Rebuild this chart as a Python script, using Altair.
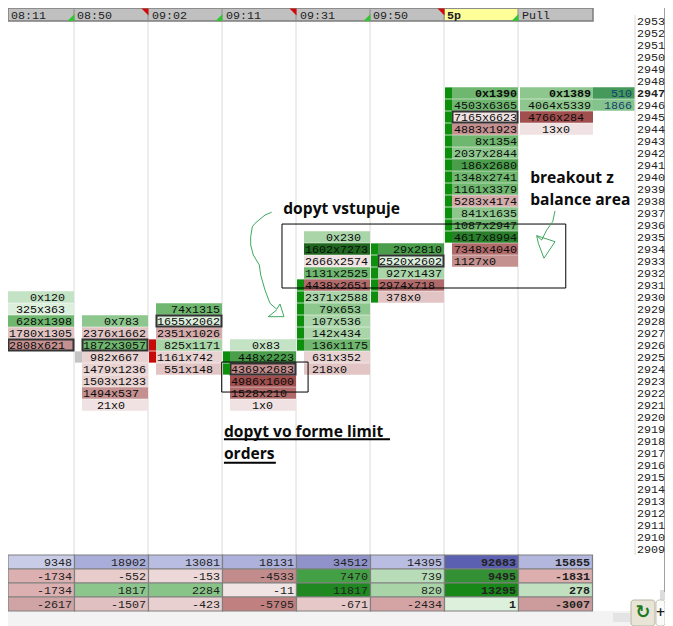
import altair as alt
import pandas as pd

# ---- chart values ---------------------------------------------------------
headers = ["08:11", "08:50", "09:02", "09:11", "09:31", "09:50", "5p", "Pull"]
header_flags = ["up", "down", "up", "down", "up", "down", "up"]
prices = list(range(2953, 2908, -1))
current_price = 2947

col0_top, col0_labels = 2930, ["0x120", "325x363", "628x1398", "1780x1305", "2808x621"]
col0_shades = ["g2", "g1", "g5", "r3", "r5"]
col1_top, col1_labels = 2928, ["0x783", "2376x1662", "1872x3057", "982x667", "1479x1236", "1503x1233", "1494x537", "21x0"]
col1_shades = ["g4", "r3", "g5", "r2", "r2", "r2", "r5", "r1"]
col2_top, col2_labels = 2929, ["74x1315", "1655x2062", "2351x1026", "825x1171", "1161x742", "551x148"]
col2_shades = ["g5", "g1", "r4", "g3", "r2", "r3"]
col3_top, col3_labels = 2926, ["0x83", "448x2223", "4369x2683", "4986x1600", "1528x210", "1x0"]
col3_shades = ["g2", "g6", "r5", "r7", "r6", "r1"]
col4_top, col4_labels = 2935, ["0x230", "1602x7273", "2666x2574", "1131x2525", "4438x2651", "2371x2588", "79x653", "107x536", "142x434", "136x1175", "631x352", "218x0"]
col4_shades = ["g3", "g8", "r1", "g5", "r6", "g3", "g4", "g3", "g3", "g5", "r2", "r3"]
col5_top, col5_labels = 2934, ["29x2810", "2520x2602", "927x1437", "2974x718", "378x0"]
col5_shades = ["g6", "g1", "g3", "r6", "r3"]
col6_top, col6_labels = 2947, ["0x1390", "4503x6365", "7165x6623", "4883x1923", "8x1354", "2037x2844", "186x2680", "1348x2741", "1161x3379", "5283x4174", "841x1635", "1087x2947", "4617x8994", "7348x4040", "1127x0"]
col6_shades = ["g5", "g5", "r1", "r5", "g5", "g4", "g6", "g5", "g5", "r4", "g4", "g5", "g7", "r6", "r5"]
col7_top, col7_labels = 2947, ["0x1389", "4064x5339", "4766x284", "13x0"]
col7_shades = ["g4", "g4", "r7", "r1"]

poc_cells = [(0, 2926), (1, 2926), (2, 2928), (3, 2924), (5, 2933), (6, 2945)]
marker_rows = {
    0: ([2926], "#c4c4c4"), 1: ([2925], "#c4c4c4"), 2: ([2926, 2925], "#c80a0a"),
    3: ([2925, 2924], "#0d8f0d"), 4: ([2931, 2930, 2929, 2928, 2927, 2926], "#0d8f0d"),
    5: ([2934, 2933, 2932, 2931, 2930], "#0d8f0d"),
    6: (list(range(2947, 2934, -1)), "#0d8f0d"),
}

side_labels = ["510", "1866"]
side_prices = [2947, 2946]
side_fills = ["#45995a", "#84c48c"]

table_rows = [
    [9348, 18902, 13081, 18131, 34512, 14395, 92683, 15855],
    [-1734, -552, -153, -4533, 7470, 739, 9495, -1831],
    [-1734, 1817, 2284, -11, 11817, 820, 13295, 278],
    [-2617, -1507, -423, -5795, -671, -2434, 1, -3007],
]
table_fills = [
    ["#c9cce6", "#a9add9", "#b9bde1", "#adb1db", "#8f93c9", "#b9bde1", "#5c60b0", "#b3b7de"],
    ["#dcb0b0", "#e8cccc", "#ecd8d8", "#c28c8c", "#44a044", "#b8dcb8", "#349034", "#dcaeae"],
    ["#dcb0b0", "#8cc68c", "#88c488", "#f0e4e4", "#208820", "#a8d4a8", "#188818", "#c0e0c0"],
    ["#d0a4a4", "#e0c0c0", "#e8d0d0", "#c08080", "#e6c8c8", "#d4a4a4", "#dcf0dc", "#cc9c9c"],
]

shade_names = ["g1", "g2", "g3", "g4", "g5", "g6", "g7", "g8", "r1", "r2", "r3", "r4", "r5", "r6", "r7"]
shade_colors = ["#dceedc", "#c4e2c4", "#a9d5a9", "#8dc78d", "#6fb66f", "#4a9d4a", "#2a802a", "#1f661f",
                "#f0e2e2", "#e8d2d2", "#e2c4c4", "#d4aaaa", "#c49090", "#b06a6a", "#a04e4e"]

# hand-drawn annotations, in column / price units
arrow1_col = [3.664, 3.574, 3.439, 3.403, 3.381, 3.381, 3.416, 3.497, 3.516, 3.574, 3.641, 3.732, 3.776, 3.830, 3.618, 3.732]
arrow1_price = [2937.06, 2936.83, 2936.14, 2935.86, 2935.03, 2934.33, 2933.5, 2932.67, 2931.83, 2930.58, 2929.48, 2928.98, 2929.42, 2928.36, 2928.36, 2928.92]
arrow2_col = [7.485, 7.454, 7.373, 7.305, 7.238, 7.485, 7.336, 7.260, 7.238]
arrow2_price = [2937.17, 2936.28, 2935.58, 2934.75, 2935.11, 2934.61, 2933.23, 2934.48, 2935.11]
box_cols = [(3.803, 7.63), (2.99, 4.155)]
box_prices = [(2936.08, 2930.75), (2924.58, 2922.08)]
notes = ["dopyt vstupuje", "breakout z", "balance area", "dopyt vo forme limit", "orders"]
note_cols = [3.82, 7.15, 7.15, 3.02, 3.02]
note_prices = [2937.3, 2939.92, 2938.05, 2918.78, 2916.92]
underline_cols = [(3.02, 5.26), (3.02, 3.72)]
underline_prices = [2918.14, 2916.19]

# ---- scales ---------------------------------------------------------------
COL_PX = 74.15
ROW_PX = 12.0
W, H = 657, 618
RIGHT = 8 + W
BOTTOM = 8 + H
X_SCALE = alt.Scale(domain=[8 / COL_PX, RIGHT / COL_PX], range=[0, W], nice=False, zero=False)
Y_SCALE = alt.Scale(domain=[2947 - (BOTTOM - 93) / ROW_PX, 2947 + 85 / ROW_PX], range=[H, 0], nice=False, zero=False)


def xy(x="x", y="y", **kw):
    enc = dict(
        x=alt.X(x, type="quantitative", scale=X_SCALE, axis=None),
        y=alt.Y(y, type="quantitative", scale=Y_SCALE, axis=None),
    )
    enc.update(kw)
    return enc


def rects(rows, **mark):
    return alt.Chart(pd.DataFrame(rows)).mark_rect(**mark).encode(
        **xy(x2=alt.X2("x2"), y2=alt.Y2("y2"), fill=alt.Fill("fill:N", scale=None))
    )


def px_col(p):
    return p / COL_PX


def px_price(p):
    return 2947 - (p - 93) / ROW_PX


MONO = "Liberation Mono"
MONO_SIZE = 11.7


def mono_text(rows, align="left", color="#0c0c0c"):
    """Text layer(s): one for the normal rows, one for the bold rows."""
    layers = []
    for weight in ["normal", "bold"]:
        part = [r for r in rows if r["w"] == weight]
        if part:
            layers.append(alt.Chart(pd.DataFrame(part)).mark_text(
                font=MONO, fontSize=MONO_SIZE, fontWeight=weight, align=align, baseline="middle", color=color
            ).encode(**xy(text="t:N")))
    return layers


CELL_LEFT = [8, 82, 156, 230, 304, 378, 452, 520]
CELL_RIGHT = [74, 148, 222, 296, 370, 444, 518, 593]
TEXT_LEFT = [9, 83, 157, 231, 305, 379, 454, 528]
CHAR = 7.0

columns = [
    (col0_top, col0_labels, col0_shades), (col1_top, col1_labels, col1_shades),
    (col2_top, col2_labels, col2_shades), (col3_top, col3_labels, col3_shades),
    (col4_top, col4_labels, col4_shades), (col5_top, col5_labels, col5_shades),
    (col6_top, col6_labels, col6_shades), (col7_top, col7_labels, col7_shades),
]

cells, cell_text = [], []
for c, (top, labels, shades) in enumerate(columns):
    for i, (label, shade) in enumerate(zip(labels, shades)):
        price = top - i
        cells.append(dict(x=px_col(CELL_LEFT[c]), x2=px_col(CELL_RIGHT[c]), y=price + 0.47, y2=price - 0.47, shade=shade))
        bid = len(label.split("x")[0])
        cell_text.append(dict(x=px_col(TEXT_LEFT[c] + (4 - bid) * CHAR), y=price - 0.02, t=label,
                              w="bold" if price == current_price else "normal"))

bg = [
    dict(x=px_col(8), x2=px_col(631), y=px_price(611), y2=px_price(BOTTOM), fill="#f3f3f3"),
    dict(x=px_col(613), x2=px_col(630), y=px_price(613), y2=px_price(622), fill="#e4e4e4"),
    dict(x=px_col(660), x2=px_col(RIGHT), y=px_price(590), y2=px_price(600), fill="#dcdcdc"),
]
background = rects(bg)

grid_rows = [dict(x=px_col(p)) for p in [74, 148, 222, 296, 370, 444, 518]]
grid = alt.Chart(pd.DataFrame(grid_rows)).mark_rule(color="#dadada", strokeWidth=1).encode(
    x=alt.X("x", type="quantitative", scale=X_SCALE, axis=None),
    y=alt.value(13), y2=alt.value(547),
)
vlines = alt.Chart(pd.DataFrame([dict(x=px_col(664.5))])).mark_rule(color="#a0a0a0", strokeWidth=1).encode(
    x=alt.X("x", type="quantitative", scale=X_SCALE, axis=None), y=alt.value(0), y2=alt.value(584)
)
vline2 = alt.Chart(pd.DataFrame([dict(x=px_col(635))])).mark_rule(color="#dadada", strokeWidth=1).encode(
    x=alt.X("x", type="quantitative", scale=X_SCALE, axis=None), y=alt.value(7), y2=alt.value(547)
)

header_bar = alt.Chart(pd.DataFrame([dict(x=px_col(8), x2=px_col(593), y=px_price(8), y2=px_price(21))])).mark_rect(
    fill="#c0c0c0", stroke="#7c7c7c", strokeWidth=1.5
).encode(**xy(x2=alt.X2("x2"), y2=alt.Y2("y2")))
yellow = rects([dict(x=px_col(445), x2=px_col(518), y=px_price(9), y2=px_price(20), fill="#ffff99")])
hdr_sep = alt.Chart(pd.DataFrame(grid_rows)).mark_rule(color="#8c8c8c", strokeWidth=1).encode(
    x=alt.X("x", type="quantitative", scale=X_SCALE, axis=None), y=alt.value(0), y2=alt.value(13)
)
hdr_text = mono_text([
    dict(x=px_col(p), y=px_price(14.8), t=t, w="bold" if t == "5p" else "normal")
    for p, t in zip([11, 77, 152, 226, 300, 373, 447, 522], headers)
], color="#222222")
flag_x = [71, 145, 219, 293, 367, 441, 515]
flag_rows = [dict(x=px_col(p), y=px_price(17.5 if f == "up" else 12), f=f) for p, f in zip(flag_x, header_flags)]
flags_up = alt.Chart(pd.DataFrame([r for r in flag_rows if r["f"] == "up"])).mark_point(
    shape="M1,-1L1,1L-1,1Z", filled=True, fill="#35c435", opacity=1, size=49, strokeWidth=0
).encode(**xy())
flags_down = alt.Chart(pd.DataFrame([r for r in flag_rows if r["f"] == "down"])).mark_point(
    shape="M-1,-1L1,-1L1,1Z", filled=True, fill="#d00a0a", opacity=1, size=49, strokeWidth=0
).encode(**xy())

cell_layer = alt.Chart(pd.DataFrame(cells)).mark_rect().encode(
    **xy(x2=alt.X2("x2"), y2=alt.Y2("y2"),
         fill=alt.Fill("shade:N", scale=alt.Scale(domain=shade_names, range=shade_colors), legend=None))
)
poc_rows = [dict(x=px_col(CELL_LEFT[c] + 0.5), x2=px_col(CELL_RIGHT[c] - 0.5), y=p + 0.46, y2=p - 0.46) for c, p in poc_cells]
poc_layer = alt.Chart(pd.DataFrame(poc_rows)).mark_rect(fillOpacity=0, stroke="#333333", strokeWidth=2).encode(
    **xy(x2=alt.X2("x2"), y2=alt.Y2("y2"))
)
marker_left = [0, 75, 149, 223, 297, 371, 445]
marker_cells = []
for c, (rows_, color) in marker_rows.items():
    if c == 0:
        continue
    for p in rows_:
        marker_cells.append(dict(x=px_col(marker_left[c]), x2=px_col(marker_left[c] + 7),
                                 y=p + 0.47, y2=p - 0.47, fill=color))
markers = rects(marker_cells)
side_cells = rects([dict(x=px_col(593), x2=px_col(634.5), y=p + 0.47, y2=p - 0.47, fill=f)
                    for p, f in zip(side_prices, side_fills)])
side_text = mono_text([dict(x=px_col(632), y=p - 0.02, t=t, w="normal") for p, t in zip(side_prices, side_labels)],
                      align="right", color="#14406e")

cell_labels = mono_text(cell_text)
price_labels = mono_text([
    dict(x=px_col(637), y=p - 0.02, t=str(p), w="bold" if p == current_price else "normal") for p in prices
], color="#222222")

# bottom table
T_TOP = px_price(555)
T_ROW = 14 / ROW_PX
T_EDGES = [8, 74.5, 148.5, 222.5, 296.5, 370.5, 444.5, 518.5, 592.5]
table_cells, table_text = [], []
for r, (vals, fills) in enumerate(zip(table_rows, table_fills)):
    for c, (v, f) in enumerate(zip(vals, fills)):
        table_cells.append(dict(x=px_col(T_EDGES[c]), x2=px_col(T_EDGES[c + 1]),
                                y=T_TOP - r * T_ROW, y2=T_TOP - (r + 1) * T_ROW, fill=f))
        table_text.append(dict(x=px_col(T_EDGES[c + 1] - 2.5), y=T_TOP - (r + 0.5) * T_ROW, t=str(v),
                               w="bold" if c >= 6 else "normal"))
table_layer = rects(table_cells, stroke="#808080", strokeWidth=1.2)
table_labels = mono_text(table_text, align="right", color="#222222")

# annotations
boxes = alt.Chart(pd.DataFrame([dict(x=a, x2=b, y=c, y2=d) for (a, b), (c, d) in zip(box_cols, box_prices)])).mark_rect(
    fillOpacity=0, stroke="#000000", strokeWidth=1
).encode(**xy(x2=alt.X2("x2"), y2=alt.Y2("y2")))


def stroke_line(cols, prices_):
    df = pd.DataFrame({"x": cols, "y": prices_, "i": range(len(cols))})
    return alt.Chart(df).mark_line(color="#3fa85f", strokeWidth=1).encode(**xy(order=alt.Order("i:Q")))


note_layer = alt.Chart(pd.DataFrame({"x": note_cols, "y": note_prices, "t": notes})).mark_text(
    font="Open Sans", fontSize=15.6, fontWeight="bold", align="left", baseline="middle", color="#0c0c0c"
).encode(**xy(text="t:N"))
underlines = alt.Chart(pd.DataFrame([dict(x=a, x2=b, y=p) for (a, b), p in zip(underline_cols, underline_prices)])).mark_rule(
    color="#000000", strokeWidth=2
).encode(**xy(x2=alt.X2("x2")))

buttons = rects([dict(x=px_col(631), x2=px_col(655), y=px_price(600), y2=px_price(BOTTOM), fill="#e8e4d6")],
                stroke="#b8b4a4", strokeWidth=1, cornerRadius=3)
button2 = rects([dict(x=px_col(656), x2=px_col(RIGHT), y=px_price(600), y2=px_price(BOTTOM), fill="#fafafa")],
                stroke="#c8c4b4", strokeWidth=1, cornerRadius=3)
btn_text = alt.Chart(pd.DataFrame([dict(x=px_col(643), y=px_price(612.5), t="\u21bb", c="#1f7a1f", s=18),
                                   dict(x=px_col(660.5), y=px_price(612), t="+", c="#222222", s=12)])).mark_text(
    font="DejaVu Sans", fontWeight="bold", align="center", baseline="middle"
).encode(**xy(text="t:N", color=alt.Color("c:N", scale=None), size=alt.Size("s:Q", scale=None)))

chart = alt.layer(
    background, grid, vlines, vline2, header_bar, yellow, hdr_sep, *hdr_text, flags_up, flags_down,
    cell_layer, poc_layer, markers, side_cells, *side_text, *cell_labels, *price_labels,
    table_layer, *table_labels, boxes, stroke_line(arrow1_col, arrow1_price), stroke_line(arrow2_col, arrow2_price),
    note_layer, underlines, buttons, button2, btn_text,
).properties(
    width=W, height=H, padding=0, background="#ffffff", autosize=alt.AutoSizeParams(type="none")
).configure_view(stroke=None)

chart.save("out.html", embed_options={"renderer": "svg", "actions": False})
